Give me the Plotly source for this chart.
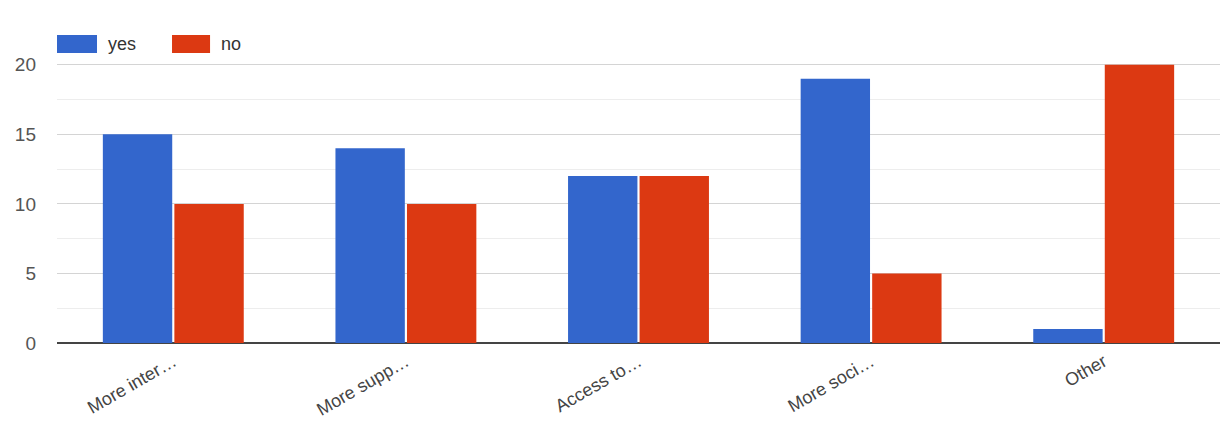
import plotly.graph_objects as go

categories = ["More inter…", "More supp…", "Access to…", "More soci…", "Other"]
yes_values = [15, 14, 12, 19, 1]
no_values = [10, 10, 12, 5, 20]
series_names = ["yes", "no"]
y_ticks = [0, 5, 10, 15, 20]

BLUE = "#3366cc"
RED = "#dc3912"
FONT = "Liberation Sans, Arial, sans-serif"

fig = go.Figure()
fig.add_trace(go.Bar(x=categories, y=yes_values, name=series_names[0],
                     marker=dict(color=BLUE, line=dict(width=0))))
fig.add_trace(go.Bar(x=categories, y=no_values, name=series_names[1],
                     marker=dict(color=RED, line=dict(width=0))))

fig.update_layout(
    width=1224, height=421,
    margin=dict(l=57, r=4, t=30, b=78),
    paper_bgcolor="white", plot_bgcolor="white",
    barmode="group", bargap=0.385, bargroupgap=0.03,
    showlegend=False,
    font=dict(family=FONT, size=18, color="#444444"),
)
fig.update_xaxes(
    tickangle=-30, showgrid=False, ticks="", showline=False, automargin=False,
    tickfont=dict(size=18, color="#444444"), ticklabelstandoff=4,
)
fig.update_yaxes(
    range=[0, 22.5], tickvals=y_ticks, showgrid=True, automargin=False,
    gridcolor="#d4d4d4", gridwidth=1,
    minor=dict(dtick=2.5, showgrid=True, gridcolor="#ededed", gridwidth=1),
    zeroline=True, zerolinecolor="#444444", zerolinewidth=1.5,
    tickfont=dict(size=19, color="#555555"), ticklabelstandoff=20,
)

# legend drawn as swatches + labels in paper space
legend_items = [(series_names[0], BLUE, 0.0, 0.0344), (series_names[1], RED, 0.0989, 0.1316)]
for name, color, x0, x1 in legend_items:
    fig.add_shape(type="rect", xref="paper", yref="paper",
                  x0=x0, x1=x1, y0=0.9265, y1=0.984,
                  fillcolor=color, line=dict(width=0), layer="above")
    fig.add_annotation(xref="paper", yref="paper", x=x1 + 0.0075, y=0.955,
                       text=name, showarrow=False, xanchor="left", yanchor="middle",
                       font=dict(family=FONT, size=18, color="#333333"))

fig.write_html("out.html")
